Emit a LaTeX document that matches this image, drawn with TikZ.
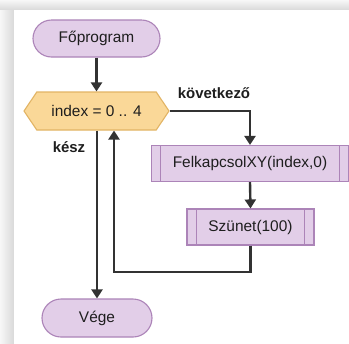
\documentclass[tikz,border=0pt]{standalone}
\usepackage{fontspec}
\setmainfont{Liberation Sans}
\usetikzlibrary{arrows.meta,shapes.misc,shapes.symbols}
\definecolor{pfill}{RGB}{226,206,232}
\definecolor{pdraw}{RGB}{172,132,184}
\definecolor{ofill}{RGB}{250,216,152}
\definecolor{odraw}{RGB}{226,180,100}
\definecolor{linec}{RGB}{50,50,50}
\definecolor{txtc}{RGB}{30,30,30}
\tikzset{
  base/.style={font=\fontsize{15.5}{18}\selectfont, text=txtc, line width=1.1bp, inner sep=0pt},
  pill/.style={base, rounded rectangle, draw=pdraw, fill=pfill},
  loopbox/.style={base, signal, signal to=west and east, signal pointer angle=112, draw=odraw, fill=ofill},
  subproc/.style={base, rectangle, draw=pdraw, fill=pfill,
    path picture={
      \draw[pdraw, line width=1bp] ([xshift=9.5bp]path picture bounding box.north west) -- ([xshift=9.5bp]path picture bounding box.south west);
      \draw[pdraw, line width=1bp] ([xshift=-9.5bp]path picture bounding box.north east) -- ([xshift=-9.5bp]path picture bounding box.south east);
    }},
  conn/.style={draw=linec, line width=2.4bp},
  arr/.style={conn, -{Triangle[width=11bp,length=9bp]}},
  lbl/.style={font=\fontsize{15}{18}\selectfont\bfseries, text=txtc, inner sep=0pt}
}
\begin{document}
\begin{tikzpicture}[x=1bp,y=-1bp]
\useasboundingbox (0,0) rectangle (349,344);
\fill[white] (0,0) rectangle (349,344);
\shade[top color=gray!6, bottom color=gray!30] (0,0) rectangle (349,10);
\shade[left color=gray!6, right color=gray!30] (0,10) rectangle (14,344);
\fill[white] (14,10) rectangle (349,344);

\node[pill, minimum width=127bp, minimum height=37bp] (fop) at (96.5,38.5) {Főprogram};
\node[loopbox, minimum width=145bp, minimum height=38bp] (hex) at (96.5,111) {index = 0 .. 4};
\node[subproc, minimum width=197bp, minimum height=36bp] (felk) at (250,163.5) {FelkapcsolXY(index,0)};
\node[subproc, minimum width=127bp, minimum height=36bp] (sz) at (250.5,227) {Szünet(100)};
\node[pill, minimum width=110bp, minimum height=38bp] (vege) at (97,318) {Vége};

\node[lbl] (kov) at (214,93.5) {következő};
\node[lbl] (kesz) at (69,147) {kész};

\coordinate (loopc) at (114,272);

\draw[arr] (fop.south) -- (hex.north);
\draw[arr] (hex.east) -| (felk.north);
\draw[arr] (felk.south) -- (sz.north);
\draw[arr] (sz.south) |- (loopc) -- (loopc |- hex.south);
\draw[arr] (hex.south -| vege.north) -- (vege.north);
\end{tikzpicture}
\end{document}
